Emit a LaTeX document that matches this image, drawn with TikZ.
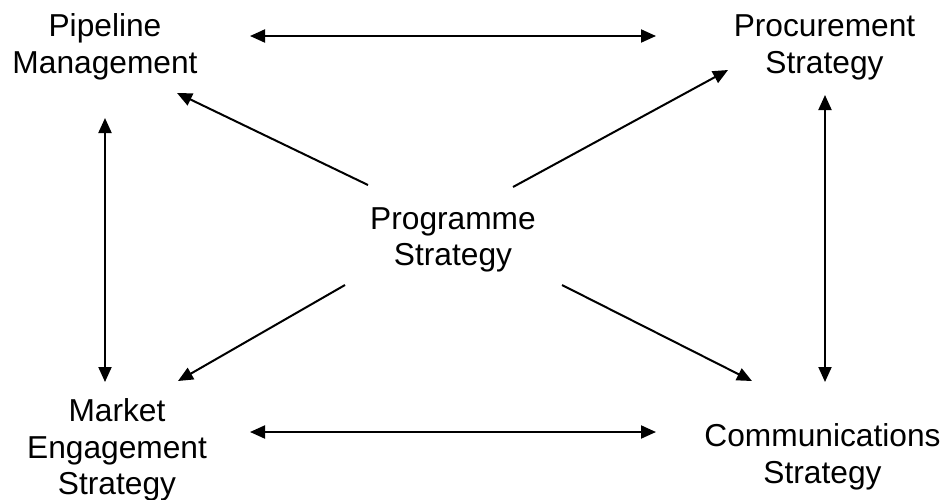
\documentclass[tikz,border=0pt]{standalone}
\usepackage{fontspec}
\setmainfont{Liberation Sans}
\usetikzlibrary{arrows.meta}
\tikzset{
  lbl/.style={anchor=base, inner sep=0pt, font=\fontsize{31.7}{36.5}\selectfont},
  link/.style={line width=2pt, {Triangle[length=15pt,width=13pt]}-{Triangle[length=15pt,width=13pt]}},
  ray/.style={line width=2pt, -{Triangle[length=15pt,width=13pt]}}
}
\newcommand{\twolines}[2]{\begin{tabular}[t]{@{}c@{}}#1\\#2\end{tabular}}
\newcommand{\threelines}[3]{\begin{tabular}[t]{@{}c@{}}#1\\#2\\#3\end{tabular}}
\begin{document}
\begin{tikzpicture}[x=1pt,y=-1pt]
\useasboundingbox (0,0) rectangle (950,499);
\node[lbl] (pm) at (105,36.7) {\twolines{Pipeline}{Management}};
\node[lbl] (ps) at (824.5,36.7) {\twolines{Procurement}{Strategy}};
\node[lbl] (prog) at (453,229.3) {\twolines{Programme}{Strategy}};
\node[lbl] (mes) at (117,421.7) {\threelines{Market}{Engagement}{Strategy}};
\node[lbl] (cs) at (822.5,446.7) {\twolines{Communications}{Strategy}};
% connector ends
\coordinate (t1) at (250,36);
\coordinate (t2) at (656,36);
\coordinate (b1) at (250,432);
\coordinate (b2) at (656,432);
\coordinate (l1) at (105,118);
\coordinate (l2) at (105,382);
\coordinate (r1) at (825,95);
\coordinate (r2) at (825,382);
\coordinate (cpm) at (368,185);
\coordinate (tpm) at (177,93);
\coordinate (cps) at (513,187);
\coordinate (tps) at (728,70);
\coordinate (cme) at (345,285);
\coordinate (tme) at (178,381);
\coordinate (ccs) at (562,285);
\coordinate (tcs) at (752,381);
\draw[link] (t1) -- (t2);
\draw[link] (b1) -- (b2);
\draw[link] (l1) -- (l2);
\draw[link] (r1) -- (r2);
\draw[ray] (cpm) -- (tpm);
\draw[ray] (cps) -- (tps);
\draw[ray] (cme) -- (tme);
\draw[ray] (ccs) -- (tcs);
\end{tikzpicture}
\end{document}
